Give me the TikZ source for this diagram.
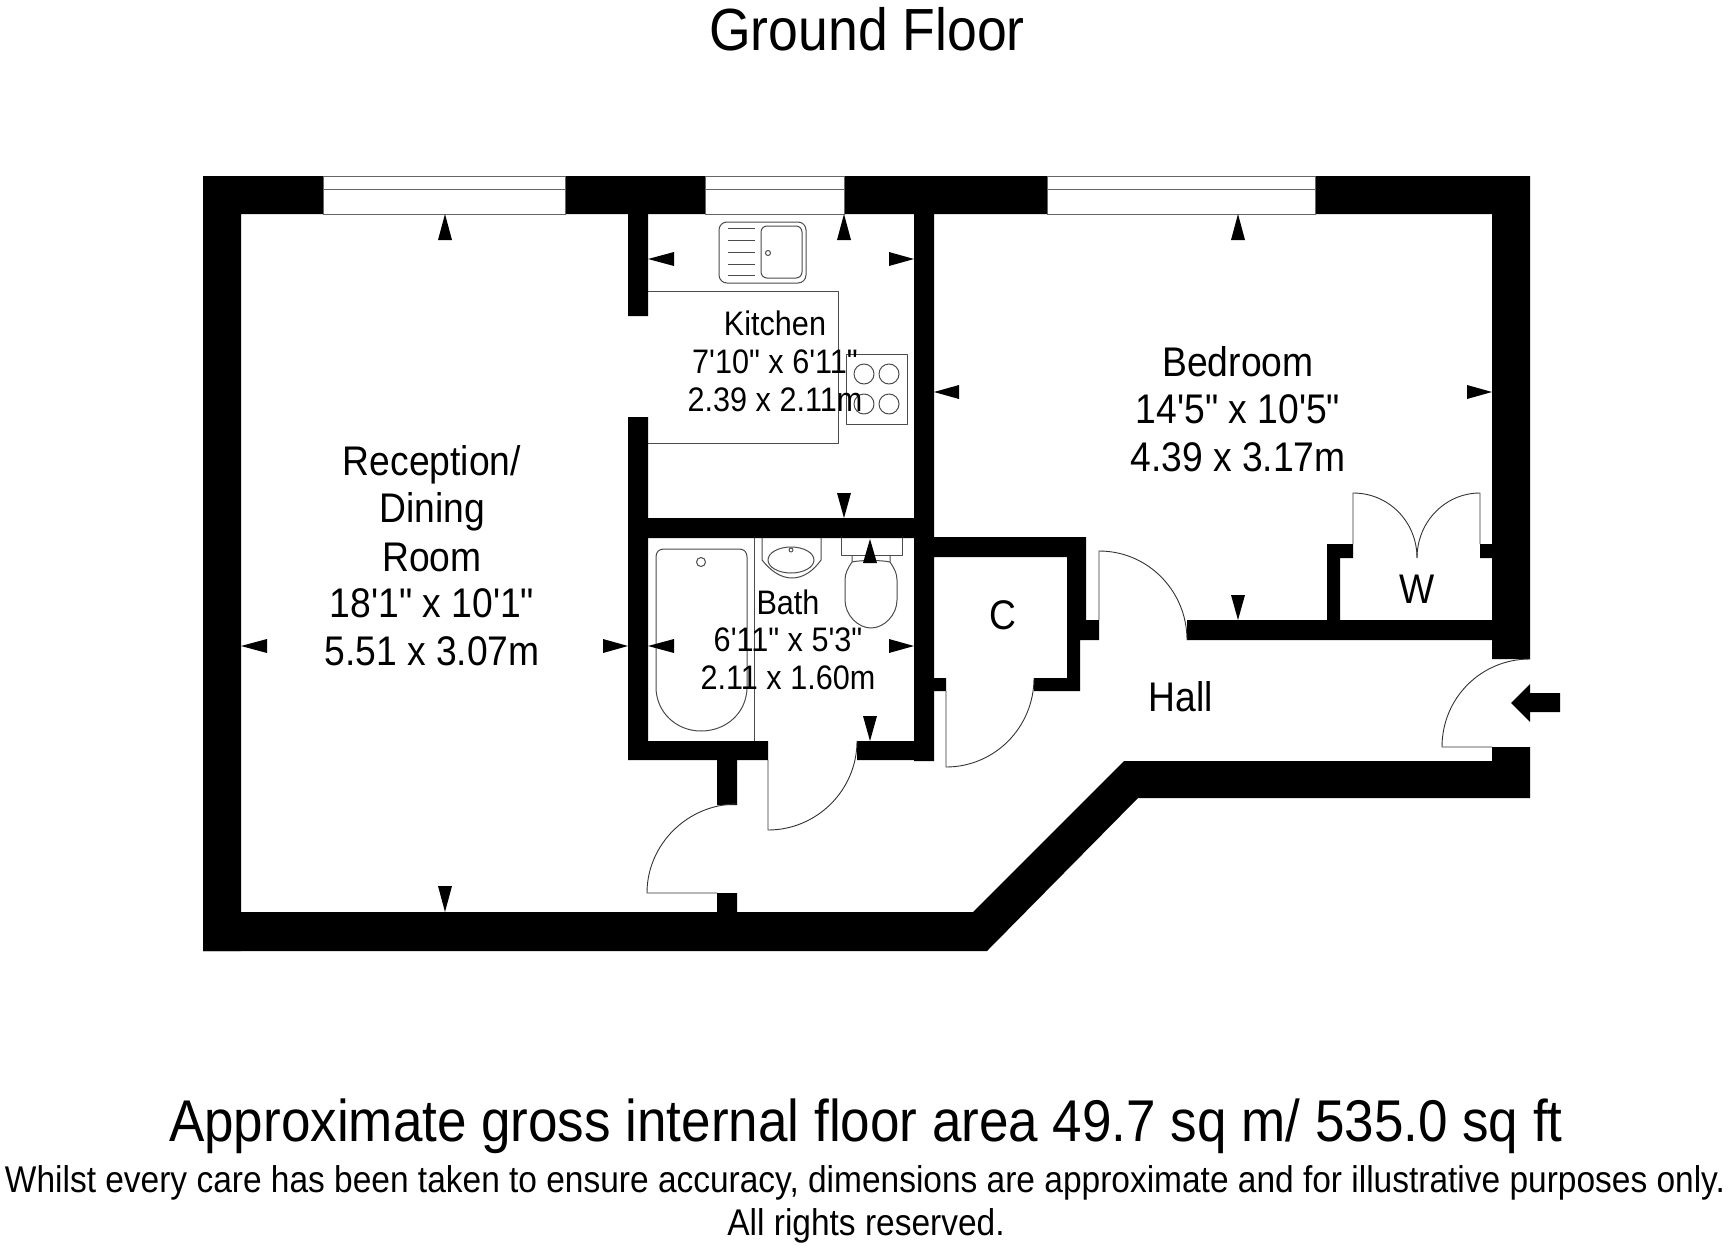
\documentclass[tikz,border=0pt]{standalone}
\usepackage{fontspec}
\newfontfamily\planfont[FakeStretch=0.9]{Liberation Sans}
\tikzset{
  wall/.style={fill=black,draw=none},
  thinline/.style={draw=black!80,line width=0.9pt,fill=none},
  fixline/.style={draw=black!70,line width=1pt,fill=none,line join=round},
  win/.style={draw=black!60,line width=1pt,fill=white},
  txt/.style={inner sep=0pt,align=center,text=black,font=\planfont},
  big/.style={txt,font=\planfont\fontsize{41.4}{47}\selectfont},
  mid/.style={txt,font=\planfont\fontsize{34}{38}\selectfont},
}
\begin{document}
\begin{tikzpicture}[x=1pt,y=-1pt]
\useasboundingbox (0,0) rectangle (1730,1250);
\fill[white] (0,0) rectangle (1730,1250);
% outer walls
\fill[wall] (203,176) rectangle (241,951)
  (203,176) rectangle (1530,214)
  (1492,176) rectangle (1530,659);
\fill[wall] (203,912) -- (973,912) -- (1124,761) -- (1492,761) -- (1492,747) -- (1530,747) -- (1530,798) -- (1138,798) -- (987,951) -- (203,951) -- cycle;
% windows
\foreach \a/\b in {323/565,705/844,1047/1315}{
  \path[win] (\a,176) rectangle (\b,214);
  \draw[win] (\a,189) -- (\b,189);
}
% inner walls
\fill[wall] (628,214) rectangle (648,316)
  (628,417) rectangle (648,760)
  (628,518) rectangle (934,538)
  (914,214) rectangle (934,761)
  (628,741) rectangle (768,760)
  (857,741) rectangle (934,760)
  (717,760) rectangle (737,805)
  (717,893) rectangle (737,912)
  (933,537) rectangle (1086,557)
  (1067,537) rectangle (1086,620)
  (1067,620) rectangle (1080,691)
  (1067,620) rectangle (1099,640)
  (1034,678) rectangle (1080,691)
  (933,678) rectangle (946,691)
  (1187,620) rectangle (1492,640)
  (1327,544) rectangle (1340,620)
  (1327,544) rectangle (1353,558)
  (1480,544) rectangle (1492,558);
% doors
\draw[thinline] (717,893) -- (647,893) .. controls (647,844) and (688,804) .. (737,804);
\draw[thinline] (768,760) -- (768,830) .. controls (817,830) and (857,790) .. (857,741);
\draw[thinline] (946,691) -- (946,767) .. controls (995,767) and (1034,727) .. (1034,678);
\draw[thinline] (1099,620) -- (1099,551) .. controls (1148,551) and (1187,591) .. (1187,640);
\draw[thinline] (1492,747) -- (1442,747) .. controls (1442,698) and (1481,659) .. (1530,659);
\draw[thinline] (1353,544) -- (1353,493) .. controls (1389,493) and (1417,522) .. (1417,558);
\draw[thinline] (1480,544) -- (1480,493) .. controls (1445,493) and (1417,522) .. (1417,558);
% kitchen units
\draw[fixline] (648,291) -- (838,291) -- (838,443) -- (648,443);
\draw[fixline,rounded corners=8pt] (719,222) rectangle (806,283);
\draw[fixline,rounded corners=6pt] (761,226) rectangle (802,278);
\draw[fixline] (768,253) circle (2.5pt);
\foreach \y in {228,240,252,264,275}{\draw[fixline] (728,\y) -- (755,\y);}
\draw[fixline] (846,354) rectangle (907,424);
\foreach \x in {864,889}{\foreach \y in {374,404}{\draw[fixline] (\x,\y) circle (10pt);}}
% bathroom
\draw[fixline] (754,538) -- (754,741);
\draw[fixline] (664,549) -- (739,549) .. controls (744,549) and (747,552) .. (747,557) -- (747,687)
  .. controls (747,712) and (727,731) .. (701,731) .. controls (676,731) and (656,712) .. (656,687)
  -- (656,557) .. controls (656,552) and (659,549) .. (664,549);
\draw[fixline] (701,562) circle (4.5pt);
\draw[fixline] (762,538) -- (762,560) .. controls (770,570) and (780,578) .. (792,578) .. controls (804,578) and (814,570) .. (821,560) -- (821,538);
\draw[fixline] (791,560) ellipse (23pt and 13pt);
\draw[fixline] (791,550) circle (2pt);
\draw[fixline] (841,538) -- (841,555) -- (902,555) -- (902,538);
\draw[fixline] (852,555) -- (852,562) .. controls (848,568) and (845,573) .. (845,580) -- (845,600)
  .. controls (845,615) and (858,628) .. (871,628) .. controls (884,628) and (897,615) .. (897,600) -- (897,580)
  .. controls (897,573) and (894,568) .. (890,562) -- (890,555);
\draw[fixline] (852,562) .. controls (860,560) and (882,560) .. (890,562);
% measure arrows
\foreach \x/\t/\b in {445/214/240,844/214/240,1238/214/240,870/539/563,445/912/886,844/518/493,870/741/716,1238/620/595}{
  \fill[wall] (\x,\t) -- (\x-7,\b) -- (\x+7,\b) -- cycle;
}
\foreach \y/\t/\b in {646/241/267,646/628/603,259/648/674,259/914/889,646/648/674,646/914/889,392/934/959,392/1492/1467}{
  \fill[wall] (\t,\y) -- (\b,\y-7) -- (\b,\y+7) -- cycle;
}
% entrance arrow
\fill[wall] (1511,703) -- (1530,684) -- (1530,693) -- (1560,693) -- (1560,712) -- (1530,712) -- (1530,722) -- cycle;
% texts
\node[txt,font=\planfont\fontsize{59.5}{62}\selectfont] (title) at (867,29) {Ground Floor};
\node[big] (r1) at (432,465) {Reception/};
\node[big] (r2) at (432,512) {Dining};
\node[big] (r3) at (432,557) {Room};
\node[big] (r4) at (432,603) {18'1" x 10'1"};
\node[big] (r5) at (432,651) {5.51 x 3.07m};
\node[mid] (k1) at (775,323) {Kitchen};
\node[mid] (k2) at (775,362) {7'10" x 6'11"};
\node[mid] (k3) at (775,400) {2.39 x 2.11m};
\node[mid] (b1) at (788,602) {Bath};
\node[mid] (b2) at (788,640) {6'11" x 5'3"};
\node[mid] (b3) at (788,678) {2.11 x 1.60m};
\node[big] (d1) at (1238,362) {Bedroom};
\node[big] (d2) at (1238,409) {14'5" x 10'5"};
\node[big] (d3) at (1238,457) {4.39 x 3.17m};
\node[big] (cc) at (1003,615) {C};
\node[big] (hh) at (1181,697) {Hall};
\node[big] (ww) at (1417,589) {W};
\node[txt,font=\planfont\fontsize{58.9}{64}\selectfont] (area) at (866,1126.5) {Approximate gross internal floor area 49.7 sq m/ 535.0 sq ft};
\node[txt,font=\planfont\fontsize{37.2}{40}\selectfont] (note) at (865,1183) {Whilst every care has been taken to ensure accuracy, dimensions are approximate and for illustrative purposes only.};
\node[txt,font=\planfont\fontsize{37.2}{40}\selectfont] (rights) at (866,1226) {All rights reserved.};
\end{tikzpicture}
\end{document}
